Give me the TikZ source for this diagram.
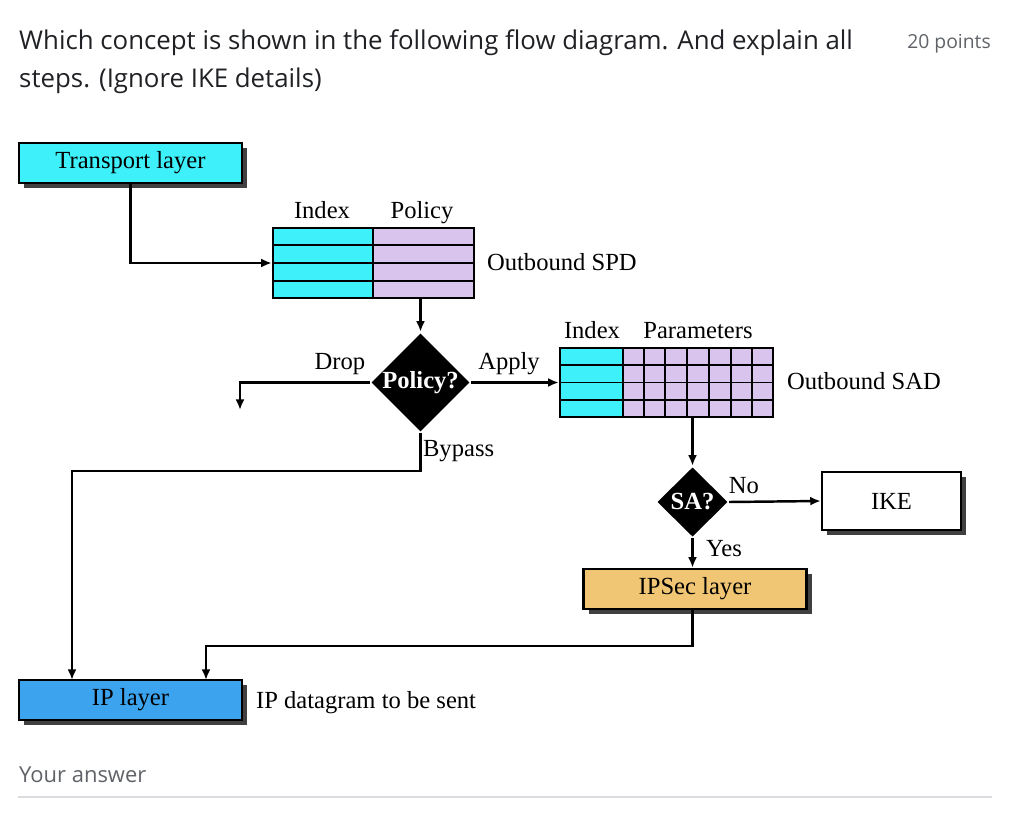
\documentclass[tikz,border=0pt]{standalone}
\usepackage{fontspec}
\setmainfont{Liberation Serif}
\newfontfamily\uifont{Open Sans}
\usetikzlibrary{arrows.meta,shapes.geometric,shadows,calc}
\definecolor{idxcyan}{HTML}{3DF0FA}
\definecolor{parlav}{HTML}{D9C4EE}
\definecolor{ipseccol}{HTML}{F0C674}
\definecolor{ipblue}{HTML}{3CA3EE}
\definecolor{titlecol}{HTML}{202124}
\definecolor{greytext}{HTML}{5F6368}
\definecolor{ruleline}{HTML}{DADCE0}

\begin{document}
\begin{tikzpicture}[x=0.02cm,y=-0.02cm,
    line width=1.4pt,
    font=\fontsize{14}{16}\selectfont,
    arr/.style={-{Latex[length=6pt,width=5pt]}},
    layer/.style={draw,minimum width=4.46cm,minimum height=0.8cm,inner sep=0pt,
        drop shadow={shadow xshift=3pt,shadow yshift=-3pt,fill=black!75,opacity=1}},
    cell/.style={draw,inner sep=0pt},
    decide/.style={diamond,fill=black,text=white,font=\fontsize{14}{16}\selectfont\bfseries,inner sep=0pt},
    ui/.style={inner sep=0pt,font=\uifont\fontsize{#1}{#1}\selectfont}]
    \useasboundingbox (0,0) rectangle (1024,824);

    \node[anchor=base west,text=titlecol,ui=14.7] (q1) at (18,50) {Which concept is shown in the following flow diagram. And explain all};
    \node[anchor=base west,text=titlecol,ui=14.7] (q2) at (18,88) {steps. (Ignore IKE details)};
    \node[anchor=base east,text=greytext,ui=11] (pts) at (992,49) {20 points};

    \node[layer,fill=idxcyan] (tl) at (130.5,163) {Transport layer};

    \node[cell,fill=idxcyan,minimum width=2cm,minimum height=1.4cm] (spdidx) at (323,263) {};
    \node[cell,fill=parlav,minimum width=2.02cm,minimum height=1.4cm] (spdpol) at (423.5,263) {};
    \foreach \r in {1,2,3}
        \draw[line width=1.1pt] ($(spdidx.north west)!\r/4!(spdidx.south west)$) -- ($(spdpol.north east)!\r/4!(spdpol.south east)$);
    \node[anchor=base] (spdh1) at (322,218) {Index};
    \node[anchor=base] (spdh2) at (422,218) {Policy};
    \node[anchor=west] (spd) at (480,262) {Outbound SPD};

    \node[decide,minimum width=1.94cm,minimum height=1.98cm] (pol) at (420.5,382.5) {Policy?};
    \node[anchor=base] (drop) at (340,369) {Drop};
    \node[anchor=base] (apply) at (509,369) {Apply};
    \node[anchor=west] (bypass) at (416,451) {Bypass};
    \coordinate (dropend) at (240,410);

    \node[cell,fill=idxcyan,minimum width=1.26cm,minimum height=1.38cm] (sadidx) at (591.5,382.5) {};
    \node[cell,fill=parlav,minimum width=3cm,minimum height=1.38cm] (sadpar) at (698,382.5) {};
    \foreach \r in {1,2,3}
        \draw[line width=1.1pt] ($(sadidx.north west)!\r/4!(sadidx.south west)$) -- ($(sadpar.north east)!\r/4!(sadpar.south east)$);
    \foreach \c in {1,...,6}
        \draw[line width=1.1pt] ($(sadpar.north west)!\c/7!(sadpar.north east)$) -- ($(sadpar.south west)!\c/7!(sadpar.south east)$);
    \node[anchor=base] (sadh1) at (592,338) {Index};
    \node[anchor=base] (sadh2) at (698,338) {Parameters};
    \node[anchor=west] (sad) at (780,381) {Outbound SAD};

    \node[decide,minimum width=1.42cm,minimum height=1.4cm] (sa) at (692.5,502) {SA?};
    \node[anchor=base] (no) at (744,493) {No};
    \node[anchor=base west] (yes) at (699,556) {Yes};
    \node[layer,fill=white,minimum width=2.78cm,minimum height=1.16cm] (ike) at (891.5,501) {IKE};
    \node[layer,fill=ipseccol] (ipsec) at (695,589) {IPSec layer};

    \node[layer,fill=ipblue] (ip) at (130.5,700) {IP layer};
    \node[anchor=west] (dgram) at (249,703) {IP datagram to be sent};
    \coordinate (ipin1) at (72,680);
    \coordinate (ipin2) at (206,680);

    \draw[arr] (tl.south) |- (spdidx.west);
    \draw[arr] (pol.north |- spdpol.south) -- (pol.north);
    \draw[arr] (pol.west) -| (dropend);
    \draw[arr] (pol.east) -- (sadidx.west);
    \draw[arr] (pol.south) -- ++(0,38) -| (ipin1);
    \draw[arr] (sa.north |- sadpar.south) -- (sa.north);
    \draw[arr] (sa.east) -- (ike.west);
    \draw[arr] (sa.south) -- (ipsec.north -| sa.south);
    \draw[arr] (ipsec.south -| sa.south) -- ++(0,36) -| (ipin2);

    \node[anchor=base west,text=greytext,ui=12.5] (ans) at (18,782) {Your answer};
    \draw[ruleline,line width=0.8pt] (18,797) -- (992,797);
\end{tikzpicture}
\end{document}
